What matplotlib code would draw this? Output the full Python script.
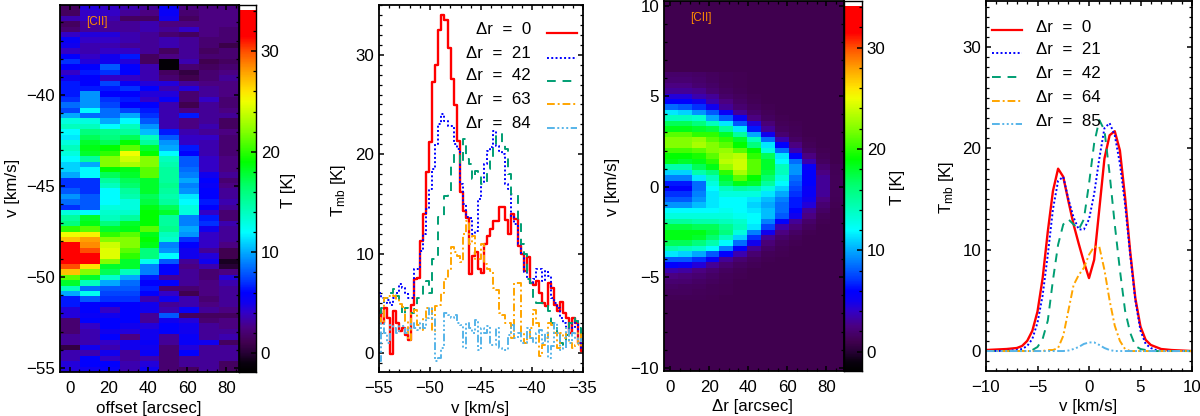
import numpy as np
import matplotlib
matplotlib.use("Agg")
import matplotlib.pyplot as plt
from matplotlib.colors import LinearSegmentedColormap
from matplotlib.lines import Line2D
from matplotlib.ticker import MultipleLocator

plt.rcParams['font.family'] = ['Liberation Sans', 'DejaVu Sans']
plt.rcParams['mathtext.default'] = 'regular'

W, H = 1200, 416
FS = 12.2

# observed position-velocity map, top row (v=-35) to bottom row (v=-55)
obs_map = [
[1.5,4.5,4.0,3.5,3.0,5.5,2.5,2.5,2.5],
[1.5,4.0,4.0,3.0,2.5,5.5,2.0,2.5,2.5],
[3.5,4.0,3.5,1.5,1.5,5.0,1.5,2.5,2.5],
[1.5,3.0,3.0,3.0,3.5,2.5,2.5,2.5,2.5],
[2.0,3.0,3.0,3.0,3.5,3.0,4.0,2.5,2.0],
[4.0,4.5,4.5,3.5,3.0,2.0,1.5,2.5,2.0],
[5.5,4.0,4.0,3.5,3.0,3.5,3.0,2.0,2.0],
[5.0,3.5,3.5,3.0,3.0,3.5,3.0,2.0,0.8],
[4.0,3.5,4.0,4.0,3.0,1.5,3.0,1.5,2.0],
[6.0,4.0,5.0,6.5,1.5,2.5,3.0,2.0,2.0],
[7.0,4.5,5.0,4.5,1.5,-1.5,3.5,1.0,1.5],
[6.0,6.0,8.0,6.0,3.5,-1.5,2.0,1.5,2.0],
[4.0,6.5,7.0,6.0,3.5,1.5,0.5,2.0,2.5],
[5.0,6.0,4.0,4.0,3.5,2.0,1.0,2.0,3.0],
[6.5,6.0,7.5,5.5,4.5,4.5,3.0,2.5,2.5],
[6.5,6.5,6.5,7.0,6.0,3.5,4.5,3.0,2.5],
[6.5,9.5,6.0,6.0,4.5,4.5,2.0,3.0,2.5],
[7.0,9.5,7.0,6.5,4.0,5.5,2.0,4.0,2.0],
[8.5,9.5,7.5,6.0,6.0,3.5,1.0,3.0,2.0],
[7.5,12.0,8.5,7.5,6.5,3.5,2.5,3.0,2.5],
[10.0,8.5,8.5,10.0,7.0,3.5,6.5,3.0,3.0],
[13.0,13.0,10.0,12.0,8.0,3.5,2.5,3.0,1.5],
[14.0,14.0,12.0,14.0,9.5,3.5,2.5,3.5,1.5],
[12.0,16.0,15.5,15.0,10.5,6.5,3.5,3.0,2.5],
[11.5,17.0,16.0,17.0,14.0,8.0,4.0,4.0,2.0],
[13.0,18.0,17.0,19.0,15.0,9.5,4.0,3.5,2.0],
[14.0,18.5,19.0,21.0,18.0,10.0,6.5,3.5,2.0],
[13.0,18.0,20.0,25.0,19.0,12.0,6.0,3.5,2.0],
[12.0,15.0,22.0,24.0,22.0,14.0,8.0,4.0,2.5],
[11.0,10.0,22.0,23.0,22.0,14.5,8.0,4.0,2.5],
[11.0,12.0,19.0,18.5,21.0,15.0,8.5,4.0,2.5],
[10.0,12.0,17.0,18.0,21.0,15.0,9.0,5.0,3.0],
[7.0,7.0,15.0,17.0,18.0,15.0,10.0,6.0,2.0],
[7.0,7.0,14.0,16.5,18.0,15.5,9.0,5.5,2.5],
[8.0,7.0,12.0,15.0,18.0,15.0,9.5,6.0,3.0],
[9.5,8.0,12.0,14.5,17.0,14.5,11.5,6.0,3.0],
[8.5,8.0,12.0,13.0,17.5,15.0,12.0,6.5,3.5],
[7.0,8.0,13.0,13.0,18.5,17.0,13.0,6.0,3.0],
[13.0,12.0,13.5,13.5,19.0,18.0,13.0,4.0,2.0],
[15.0,18.0,14.0,15.0,19.0,15.0,9.0,6.5,2.0],
[16.0,18.5,16.0,18.0,19.0,15.0,9.0,7.0,3.5],
[20.0,21.0,18.0,18.5,21.0,15.5,10.0,5.0,3.0],
[25.0,25.5,20.0,21.0,18.5,14.0,9.5,4.0,3.0],
[27.0,28.0,22.0,22.0,19.0,13.5,7.0,4.0,3.0],
[33.0,28.5,24.0,22.0,18.5,9.0,6.0,4.0,2.5],
[33.0,30.0,24.5,21.0,16.0,9.5,5.0,3.0,1.0],
[33.0,33.0,24.5,20.0,16.0,12.0,5.0,4.5,1.0],
[33.0,33.0,22.0,18.0,12.5,8.0,3.0,5.0,-0.5],
[30.0,26.0,18.0,18.0,9.0,6.0,2.5,3.5,0.0],
[27.0,22.0,17.0,14.0,9.0,6.0,3.0,2.0,2.5],
[21.0,18.0,13.5,10.0,6.5,3.0,3.0,2.0,4.5],
[18.0,14.0,10.0,8.5,6.0,6.0,3.0,2.5,3.5],
[14.0,8.5,8.0,8.0,6.5,2.0,2.0,2.5,3.0],
[10.0,12.5,7.5,7.5,6.0,4.0,1.0,2.5,3.0],
[6.5,8.0,7.0,7.0,3.5,5.0,3.5,2.0,3.0],
[6.5,6.0,6.0,6.0,5.0,3.0,3.5,2.5,3.0],
[4.5,6.0,4.0,6.0,5.0,3.5,5.5,3.0,2.5],
[4.5,5.5,5.0,6.0,3.0,8.0,1.5,1.5,1.5],
[2.0,6.0,6.0,6.0,3.0,5.0,4.5,2.0,2.5],
[2.0,4.0,6.0,5.0,4.5,6.0,5.0,3.0,2.5],
[2.0,3.5,5.0,4.5,5.0,6.0,5.0,3.0,3.0],
[3.0,3.5,6.0,2.5,5.0,3.0,5.5,3.0,3.5],
[3.0,3.5,4.0,5.0,5.5,3.0,5.5,5.0,1.5],
[0.5,5.0,3.5,5.0,5.0,2.0,4.5,3.0,3.0],
[3.5,3.5,5.0,3.0,5.5,2.0,6.0,3.0,3.0],
[3.5,6.0,4.0,3.0,3.5,2.0,3.0,3.0,3.0],
[4.5,6.0,6.0,3.5,4.5,2.0,3.0,3.0,1.5],
[4.5,5.0,5.5,3.5,5.0,2.0,1.5,3.0,1.5],
]

# model map: active rows only, outer columns/rows take model_bg
model_bg = 1.0
model_rows_above = 13
model_rows_below = 13
model_rows = [
[1.8,1.8,1.6,1.4,1.2,1.1],
[2,2,1.8,1.5,1.2,1.1],
[2.5,2.5,2,1.7,1.3,1.1],
[3,3,2.8,2,1.5,1.2],
[4.5,4.5,3.5,3,1.8,1.4,1.1],
[6,6,5,3.5,2.5,1.6,1.2],
[8.5,8,7,5,3,2,1.4,1.1],
[11.5,11,9.5,8,5.5,3,1.8,1.3],
[14,14,13.5,10,8,5.5,2.5,1.5,1.1],
[17,17,16,14,11.5,8,4.5,2.2,1.3,1.1],
[18.5,18.5,18,17.5,15,11.5,6.5,3,1.5,1.2],
[21,21,20,20,18,15,10,5,2,1.3],
[22,22,22.5,21,20,18,14,8.5,3.5,1.6,1.1],
[22,22,23,22,21,19,16,11.5,6,2.5,1.3],
[20.5,20.5,21,22,22.5,21,19,13,8.5,3.5,1.6,1.1],
[19,19,19.5,21,23,23.5,20,17,11.5,6,2.5,1.3],
[18.5,18,18.5,20,23.5,24,21,18,12,8.5,3.5,1.5],
[14.5,14.5,17,18.5,22.5,24,21,18,14,9.5,5.5,2,1.2],
[11,11,14.5,16,20,23,21,17.5,14,9.5,6,2.5,1.2],
[9,9,11.5,14,18,21,19,16.5,13,8.5,6,3,1.3],
[6.5,6.5,8.5,13,17,18.5,18,15,12,8,6,3,1.3],
[6,6,8.5,12,14,15,14.5,13,11,7.5,5.5,3,1.3],
[7,7,9,11.5,13,13,13,11.5,10,7,5.5,3,1.3],
[8,8,9.5,11.5,12,12,11.5,10.5,9,6.5,5,2.5,1.2],
[9.5,9.5,10.5,11.5,12,12,11,10,8.5,6.5,4.5,2,1.1],
[12,12,12,12,12.5,12,11.5,10.5,8.5,6,3,1.6],
[13,13,13,13,13,12.5,12,10.5,8,5,2.5,1.3],
[15,15,14.5,14.5,14,13.5,12,9,6,3,1.8,1.1],
[17.5,17.5,17,17,15.5,14,11.5,7.5,3.5,2.2,1.4],
[18.5,18.5,18.5,17.5,16,13,9,5,2.5,1.6,1.1],
[18.5,18.5,18,16.5,14,11,7,3,1.8,1.3],
[17,17,16,14.5,12,8.5,5,2.2,1.4,1.1],
[14.5,14,13.5,12,9,6,3,1.7,1.2],
[11.5,11,10,8,6,3.5,2,1.3,1.1],
[8,8,7,5.5,3,2,1.4,1.1],
[6,5.5,4.5,3,2,1.5,1.2],
[3.5,3.2,2.5,2,1.5,1.2],
[2.5,2.3,2,1.6,1.3,1.1],
[2,1.9,1.6,1.4,1.2],
[1.6,1.5,1.4,1.2,1.1],
[1.4,1.4,1.3,1.2,1.1],
[1.2,1.2,1.2,1.1],
]

# observed spectra, T_mb [K] per channel from v=-55 to v=-35
obs_labels = ["\u0394r  =  0", "\u0394r  =  21", "\u0394r  =  42", "\u0394r  =  63", "\u0394r  =  84"]
obs_0 = [4.2,3.0,4.5,3.5,-0.1,4.2,3.0,2.2,2.5,1.8,1.3,4.8,7.5,7.6,11.3,14,18.2,21.2,27.3,29,32.5,34,33.5,30.7,27.6,24.9,21.3,16.2,14.3,13.6,8,9.8,10.2,8.5,8.1,11,11.8,12.5,13.3,13.3,14.7,14.7,13.4,12,14,13.5,10.8,10,8.3,9.7,7,6.8,7.2,6,5,4.7,7,6.5,4.8,4.2,5.1,4,3.5,2,3.5,3.0,1,0.2]
obs_21 = [6,5.5,5,5.3,4.8,5.5,6,6.9,6.5,6,5.5,5.5,8.5,8.5,10.3,12,14.5,16.5,18.5,21,23,24,23.3,22.8,22.8,21,20.5,17,15,13.7,13.6,12,12.3,15.5,17.2,19,20.3,20.7,22.3,20.8,20.3,20,17,16.5,13.7,13,11,10,8.2,7.5,7,7.5,8.5,8.5,7.2,8.3,7.8,5.5,5,4.5,3.5,3,2.5,3,2.5,3.2,1.5,0.5]
obs_42 = [4,4.5,5.5,5.5,6,6.4,5.7,5,3.8,4.5,4,4,4.4,5.5,5.5,7,7.2,6,9.5,9.5,13.7,13.7,15.8,16,19,20,20,19,21.5,19.5,19,17.5,18.3,18,17,17,18.5,19.5,20.7,22,22,21,20.5,18,16,16,13,11,10,7.5,7,5.5,5,5,5,4.8,4.2,3,2.5,1.5,1,0.8,1.8,3,3.5,3.2,2.5,1.5]
obs_63 = [3.5,3,5.5,5.7,5.8,5.7,5.3,4.9,4.6,3.2,1.3,4,4.3,2.8,2.3,3.5,4.5,4.5,2.2,4.7,4.8,6,7.5,8.5,10.7,10.2,9.8,9.2,12,13.3,11,11.8,9.5,9.5,11,9,8.5,8.3,6.5,6.3,4,3.8,3,3,1.5,7,7,2,1,1.5,2.5,4.3,3,-0.3,0.8,1.5,3,2.8,2,0.5,2,1.5,2.5,1,0.5,0.8,2.0,0.6]
obs_84 = [-0.8,3,2,1,2.8,2.5,2,2.7,2.7,2,2.5,3,2.5,2.3,3,2.5,3.5,4.5,3.5,-0.8,-0.5,0.5,4,3.8,3.5,3.8,3,2.8,0.5,3,2.5,2,3.3,0.3,2.5,2,2.7,0.8,0.8,2.5,0.5,0.3,0.3,1.8,2.8,1.5,2,1,1,2.5,1.5,1,2,2.3,1,2,-0.5,0.7,3,2,0.3,0.5,2.5,1,2,1.5,1.0,1.4]

# model spectra
mod_labels = ["\u0394r  =  0", "\u0394r  =  21", "\u0394r  =  42", "\u0394r  =  64", "\u0394r  =  85"]
mod_v = [-10,-8,-7,-6.5,-6,-5.5,-5,-4.5,-4,-3.5,-3,-2.5,-2,-1.5,-1,-0.5,0,0.5,1,1.5,2,2.5,3,3.5,4,4.5,5,5.5,6,6.5,7,8,10]
mod_0 = [0.1,0.2,0.3,0.5,1.0,2.0,3.9,7.2,11.8,15.8,18.0,17.2,14.8,12.5,10.6,8.8,7.2,9.0,14,19,21.3,21.7,19.8,15.2,9.8,5.2,2.4,1.1,0.6,0.4,0.2,0.1,0]
mod_21 = [0,0.02,0.1,0.2,0.5,1.2,2.8,5.5,9.5,14,16.8,17.2,15,13.2,12,12,13,15.5,19,22,22.5,21.3,18.5,14.5,9.5,5,2,0.7,0.3,0.1,0,0,0]
mod_42 = [0,0,0,0,0,0.1,0.4,1.2,3,7,10.5,12.5,13,12.5,12,13,16.5,20.5,22.8,21.8,17.5,12.5,8,4,1.8,0.5,0.2,0.1,0,0,0,0,0]
mod_64 = [0,0,0,0,0,0,0,0,0.1,0.1,0.3,1.5,4,6.5,7.5,8.2,9.5,10.3,10.3,8,5,2.5,1,0.2,0,0,0,0,0,0,0,0,0]
mod_85 = [0,0,0,0,0,0,0,0,0,0,0,0,0.05,0.2,0.4,0.7,0.85,0.85,0.6,0.3,0.1,0,0,0,0,0,0,0,0,0,0,0,0]

LINE_COLORS = ['#ff0000', '#0000ff', '#009e73', '#ffa500', '#56b4e9']
LINE_STYLES = ['-', (0, (1, 1.2)), (0, (4.5, 3.5)), (0, (4, 1.5, 1, 1.5)), (0, (4, 1.3, 1, 1.3, 1, 1.3, 1, 1.3))]

anchors = [(-1.9,(0,0,0)),(-1,(10,0,15)),(0,(40,0,55)),(1,(65,0,80)),(2.5,(75,0,130)),(4,(50,0,200)),
           (5,(15,0,240)),(6,(0,0,255)),(7,(0,50,255)),(9,(0,130,255)),(10,(0,170,255)),(12,(0,255,255)),
           (14,(0,255,190)),(16.5,(0,255,110)),(19,(0,255,0)),(22,(130,255,0)),(25,(240,255,0)),
           (26,(255,230,0)),(28,(255,160,0)),(30,(255,80,0)),(31.5,(255,0,0)),(34.1,(255,0,0)),
           (34.15,(255,255,255)),(34.6,(255,255,255))]
T_MIN, T_MAX = anchors[0][0], anchors[-1][0]
cmap = LinearSegmentedColormap.from_list(
    'idl', [((t - T_MIN) / (T_MAX - T_MIN), tuple(c / 255 for c in rgb)) for t, rgb in anchors], N=512)

fig = plt.figure(figsize=(W / 100, H / 100), dpi=100, facecolor='white')


def px_axes(x0, y0, x1, y1):
    return fig.add_axes([x0 / W, 1 - y1 / H, (x1 - x0) / W, (y1 - y0) / H])


def px_text(x, y, s, **kw):
    kw.setdefault('fontsize', FS)
    kw.setdefault('ha', 'center')
    kw.setdefault('va', 'center')
    fig.text(x / W, 1 - y / H, s, **kw)


def style(ax, xmaj, xmin, ymaj, ymin):
    ax.xaxis.set_major_locator(MultipleLocator(xmaj))
    ax.xaxis.set_minor_locator(MultipleLocator(xmin))
    ax.yaxis.set_major_locator(MultipleLocator(ymaj))
    ax.yaxis.set_minor_locator(MultipleLocator(ymin))
    ax.tick_params(which='major', direction='in', length=3.8, width=1.1, top=True, right=True, labelsize=FS)
    ax.tick_params(which='minor', direction='in', length=1.9, width=0.9, top=True, right=True)
    ax.tick_params(axis='x', which='major', pad=6.5)
    ax.tick_params(axis='y', which='major', pad=3.5)
    for s in ax.spines.values():
        s.set_linewidth(1.3)


def colorbar(x0, y0, x1, y1, label_x, label_y):
    cax = px_axes(x0, y0, x1, y1)
    t = np.linspace(T_MIN, T_MAX, 512)[:, None]
    cax.imshow(t, origin='lower', aspect='auto', cmap=cmap, vmin=T_MIN, vmax=T_MAX,
               extent=[0, 1, T_MIN, T_MAX], interpolation='nearest')
    cax.set_xticks([])
    cax.yaxis.tick_right()
    cax.yaxis.set_major_locator(MultipleLocator(10))
    cax.yaxis.set_minor_locator(MultipleLocator(2))
    cax.tick_params(which='major', axis='y', direction='in', length=3.8, width=1.1, right=True, labelsize=FS, pad=3.5)
    cax.tick_params(which='minor', axis='y', direction='in', length=1.9, width=0.9, right=True)
    for s in cax.spines.values():
        s.set_linewidth(1.0)
    px_text(label_x, label_y, 'T [K]', rotation=90)


def legend_lines(x0, x1, ys):
    for y, c, ls in zip(ys, LINE_COLORS, LINE_STYLES):
        fig.add_artist(Line2D([x0 / W, x1 / W], [1 - y / H] * 2, transform=fig.transFigure,
                              color=c, ls=ls, lw=1.6 if ls == '-' else 1.4))


# Panel 1
ax1 = px_axes(60, 5, 239, 372)
obs = np.array(obs_map)
xe = np.linspace(-4.9, 86.4, obs.shape[1] + 1)
ye = np.linspace(-35.04, -55.22, obs.shape[0] + 1)
ax1.pcolormesh(xe, ye, obs, cmap=cmap, vmin=T_MIN, vmax=T_MAX, shading='flat')
ax1.set_xlim(-4.9, 86.4)
ax1.set_ylim(-55.22, -35.04)
style(ax1, 20, 5, 5, 1)
ax1.set_yticks([-55, -50, -45, -40])
px_text(149, 408, 'offset [arcsec]')
px_text(12, 188, 'v [km/s]', rotation=90)
px_text(97, 22, '[CII]', color='#ff8c00', fontsize=8.5)
colorbar(239, 5, 256, 372, 289, 190)

# Panel 2
ax2 = px_axes(379, 5, 583, 372)
for vals, c, ls in zip([obs_0, obs_21, obs_42, obs_63, obs_84], LINE_COLORS, LINE_STYLES):
    v = np.linspace(-55, -35, len(vals))
    ax2.plot(v, vals, drawstyle='steps-mid', color=c, ls=ls, lw=1.7 if ls == '-' else 1.4)
ax2.set_xlim(-55, -35)
ax2.set_ylim(-1.9, 35)
style(ax2, 5, 1, 10, 1)
px_text(480, 408, 'v [km/s]')
px_text(338, 190, 'T$_{mb}$ [K]', rotation=90)
for lab, y in zip(obs_labels, [30, 53, 76, 99, 123]):
    px_text(531, y, lab, ha='right')
legend_lines(547, 577, [33, 58, 81, 104, 128])

# Panel 3
ax3 = px_axes(664, 1, 844, 371)
n_col = 13
active = [r + [model_bg] * (n_col - len(r)) for r in model_rows]
mod = np.vstack([np.full((model_rows_above, n_col), model_bg), np.array(active),
                 np.full((model_rows_below, n_col), model_bg)])
xe3 = np.linspace(-3.1, 89, n_col + 1)
ye3 = np.linspace(10.26, -10.18, mod.shape[0] + 1)
ax3.pcolormesh(xe3, ye3, mod, cmap=cmap, vmin=T_MIN, vmax=T_MAX, shading='flat')
ax3.set_xlim(-3.1, 89)
ax3.set_ylim(-10.18, 10.26)
style(ax3, 20, 5, 5, 1)
px_text(753, 407, '\u0394r [arcsec]')
px_text(613, 187, 'v [km/s]', rotation=90)
px_text(701, 18, '[CII]', color='#ff8c00', fontsize=8.5)
colorbar(844, 1, 862, 371, 897, 187)

# Panel 4
ax4 = px_axes(986, 0.5, 1192, 371)
for vals, c, ls in zip([mod_0, mod_21, mod_42, mod_64, mod_85], LINE_COLORS, LINE_STYLES):
    ax4.plot(mod_v, vals, color=c, ls=ls, lw=1.7 if ls == '-' else 1.4)
ax4.set_xlim(-10, 10)
ax4.set_ylim(-1.97, 34.6)
style(ax4, 5, 1, 10, 1)
px_text(1088, 407, 'v [km/s]')
px_text(947, 187, 'T$_{mb}$ [K]', rotation=90)
for lab, y in zip(mod_labels, [27, 50, 73, 97, 121]):
    px_text(1036, y, lab, ha='left')
legend_lines(992, 1022, [30, 53, 77, 101, 124])

fig.savefig('out.png', dpi=100)
